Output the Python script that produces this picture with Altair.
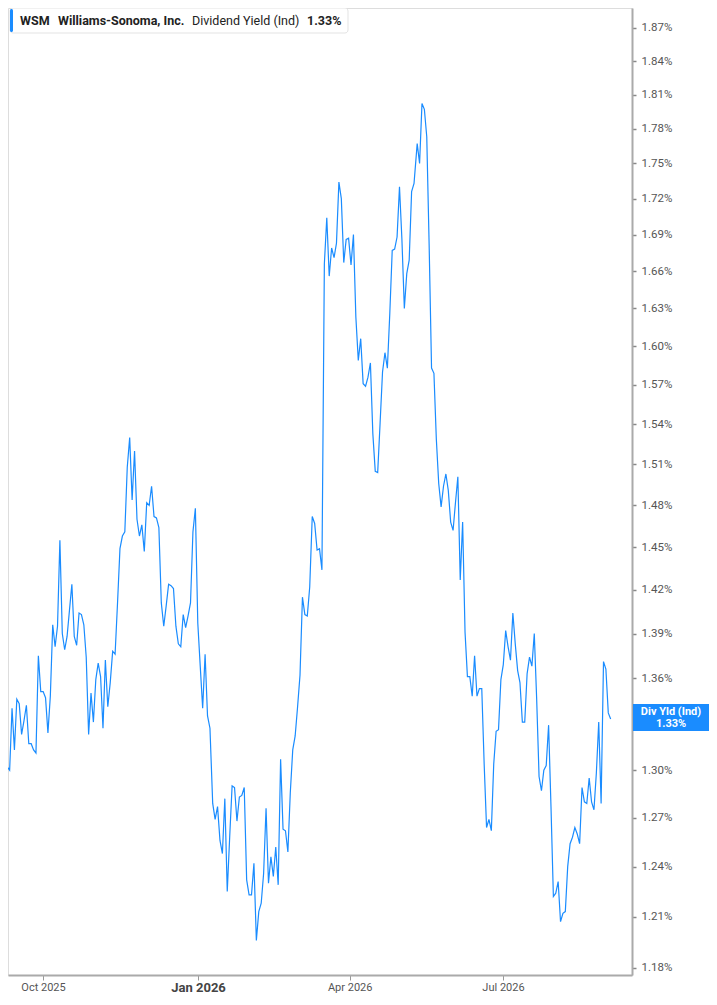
import altair as alt
import pandas as pd

# ---- labels ----
ticker = "WSM"
company = "Williams-Sonoma, Inc."
metric = "Dividend Yield (Ind)"
last_text = "1.33%"
tag_title = "Div Yld (Ind)"

# ---- dividend yield (%), daily closes, in six stretches ----
seg_1 = [1.301, 1.302, 1.303, 1.302, 1.300, 1.340, 1.313, 1.346, 1.343, 1.323, 1.332, 1.342,
         1.317, 1.317, 1.313, 1.311, 1.375, 1.351, 1.351, 1.347, 1.324, 1.348, 1.396, 1.381,
         1.395, 1.455, 1.390, 1.379, 1.388, 1.406, 1.424, 1.388, 1.382, 1.404, 1.403, 1.396,
         1.374, 1.323, 1.350, 1.331, 1.359, 1.370, 1.361, 1.327]
seg_2 = [1.372, 1.341, 1.357, 1.378, 1.376, 1.411, 1.449, 1.458, 1.461, 1.508, 1.530, 1.484,
         1.520, 1.470, 1.458, 1.466, 1.447, 1.482, 1.480, 1.494, 1.472, 1.471, 1.464, 1.411,
         1.395, 1.409, 1.424, 1.423, 1.421, 1.395, 1.383, 1.381, 1.403, 1.394, 1.402, 1.411,
         1.461, 1.478, 1.397, 1.368, 1.340, 1.376, 1.335, 1.327]
seg_3 = [1.279, 1.269, 1.277, 1.256, 1.248, 1.282, 1.225, 1.258, 1.290, 1.289, 1.268, 1.283,
         1.284, 1.289, 1.232, 1.223, 1.223, 1.242, 1.196, 1.213, 1.218, 1.236, 1.276, 1.230,
         1.246, 1.234, 1.252, 1.229, 1.307, 1.263, 1.262, 1.249, 1.286, 1.313, 1.322, 1.341,
         1.362, 1.415, 1.403, 1.402, 1.422]
seg_4 = [1.472, 1.467, 1.448, 1.449, 1.434, 1.666, 1.704, 1.656, 1.679, 1.671, 1.683, 1.734,
         1.720, 1.667, 1.686, 1.687, 1.665, 1.690, 1.623, 1.589, 1.606, 1.571, 1.569, 1.576,
         1.587, 1.533, 1.505, 1.504, 1.541, 1.580, 1.595, 1.583, 1.626, 1.677, 1.678, 1.688,
         1.730, 1.686, 1.630, 1.658, 1.669, 1.726, 1.733]
seg_5 = [1.767, 1.750, 1.802, 1.797, 1.773, 1.681, 1.583, 1.579, 1.529, 1.496, 1.479, 1.494,
         1.503, 1.491, 1.468, 1.462, 1.482, 1.501, 1.427, 1.468, 1.391, 1.361, 1.361, 1.348,
         1.375, 1.348, 1.353, 1.353, 1.304, 1.264, 1.269, 1.262, 1.304, 1.325, 1.326, 1.359,
         1.369, 1.392, 1.381, 1.372, 1.404, 1.383, 1.365]
seg_6 = [1.357, 1.331, 1.331, 1.363, 1.374, 1.368, 1.390, 1.346, 1.296, 1.287, 1.300, 1.303,
         1.329, 1.277, 1.222, 1.224, 1.231, 1.207, 1.212, 1.213, 1.240, 1.254, 1.258, 1.264,
         1.260, 1.254, 1.289, 1.280, 1.279, 1.295, 1.280, 1.275, 1.298, 1.331, 1.279, 1.371,
         1.366, 1.337, 1.333]
segments = [seg_1, seg_2, seg_3, seg_4, seg_5, seg_6]

# first and last date covered by each stretch
seg_dates = [("2025-09-05 12:00", "2025-11-05 14:00"),
             ("2025-11-07 00:00", "2026-01-08 02:00"),
             ("2026-01-09 17:00", "2026-03-08 07:00"),
             ("2026-03-09 19:00", "2026-05-09 05:00"),
             ("2026-05-11 02:00", "2026-07-09 17:00"),
             ("2026-07-11 02:00", "2026-09-02 22:00")]

# ---- axis ticks (1.33% sits under the value tag) ----
y_ticks = [1.18, 1.21, 1.24, 1.27, 1.30, 1.36, 1.39, 1.42, 1.45, 1.48, 1.51, 1.54,
           1.57, 1.60, 1.63, 1.66, 1.69, 1.72, 1.75, 1.78, 1.81, 1.84, 1.87]
x_ticks = [(2025, 10, 1), (2026, 1, 1), (2026, 4, 1), (2026, 7, 1)]

parts = []
for seg, (d0, d1) in zip(segments, seg_dates):
    parts.append(pd.DataFrame({"date": pd.date_range(d0, d1, periods=len(seg)), "yld": seg}))
df = pd.concat(parts, ignore_index=True)
last_df = df.tail(1)
one = pd.DataFrame({"k": [0]})

BLUE = "#1a8cff"
FONT = "Roboto"
TAG_X = 663

x_enc = alt.X(
    "date:T",
    title=None,
    scale=alt.Scale(domain=[alt.DateTime(year=2025, month=9, date=10, hours=5),
                            alt.DateTime(year=2026, month=9, date=15, hours=14)]),
    axis=alt.Axis(
        values=[alt.DateTime(year=a, month=b, date=c) for a, b, c in x_ticks],
        format="%b %Y",
        grid=False,
        domainColor="#aaaaaa",
        domainWidth=2,
        tickColor="#999999",
        tickSize=5,
        labelPadding=1,
        labelFont=FONT,
        labelFontSize={"condition": {"test": "month(datum.value) == 0", "value": 13}, "value": 11},
        labelFontWeight={"condition": {"test": "month(datum.value) == 0", "value": "bold"}, "value": "normal"},
        labelColor={"condition": {"test": "month(datum.value) == 0", "value": "#444444"}, "value": "#555555"},
    ),
)
y_enc = alt.Y(
    "yld:Q",
    title=None,
    scale=alt.Scale(type="log", domain=[1.1759, 1.8884], nice=False, zero=False),
    axis=alt.Axis(
        orient="right",
        values=y_ticks,
        labelExpr="format(datum.value, '.2f') + '%'",
        grid=False,
        domainColor="#aaaaaa",
        domainWidth=2,
        tickColor="#888888",
        tickSize=4,
        tickWidth=1.5,
        labelPadding=5,
        labelFont=FONT,
        labelFontSize=11.5,
        labelColor="#555555",
    ),
)

line = alt.Chart(df).mark_line(color=BLUE, strokeWidth=1.2, clip=True).encode(x=x_enc, y=y_enc)

# tag at right showing last value
tag_box = alt.Chart(last_df).mark_point(
    shape="M -1 -0.355 L 1 -0.355 L 1 0.355 L -1 0.355 Z",
    filled=True, fill=BLUE, opacity=1, size=5776,
).encode(x=alt.value(TAG_X), y="yld:Q", yOffset=alt.value(-1.5))
tag_t1 = alt.Chart(last_df).mark_text(
    text=tag_title, color="white", font=FONT, fontSize=11, fontWeight="bold", dy=-7.5
).encode(x=alt.value(TAG_X), y="yld:Q")
tag_t2 = alt.Chart(last_df).mark_text(
    text=last_text, color="white", font=FONT, fontSize=11, fontWeight="bold", dy=4.5
).encode(x=alt.value(TAG_X), y="yld:Q")

# legend box at top left
legend_box = alt.Chart(one).mark_rect(
    fill="white", stroke="#e3e3e3", strokeWidth=1, cornerRadius=3
).encode(x=alt.value(2), x2=alt.value(340), y=alt.value(0), y2=alt.value(25))
legend_bar = alt.Chart(one).mark_rect(fill=BLUE, cornerRadius=1.5).encode(
    x=alt.value(2), x2=alt.value(5), y=alt.value(1), y2=alt.value(24))

legend_items = [(ticker, 12, "bold"), (company, 50, "bold"), (metric, 184, "normal"), (last_text, 299, "bold")]
legend_texts = [
    alt.Chart(one).mark_text(text=t, align="left", baseline="middle", font=FONT, fontSize=12.5,
                             fontWeight=w, color="#222222").encode(x=alt.value(px), y=alt.value(13))
    for t, px, w in legend_items
]

chart = alt.layer(line, tag_box, tag_t1, tag_t2, legend_box, legend_bar, *legend_texts).properties(
    width=624, height=967, background="white",
    autosize=alt.AutoSizeParams(type="none"),
    padding={"left": 0, "top": 0, "right": 77, "bottom": 21},
).configure_view(stroke=None).configure(font=FONT)

chart.save("out.html", embed_options={"renderer": "svg", "actions": False})
